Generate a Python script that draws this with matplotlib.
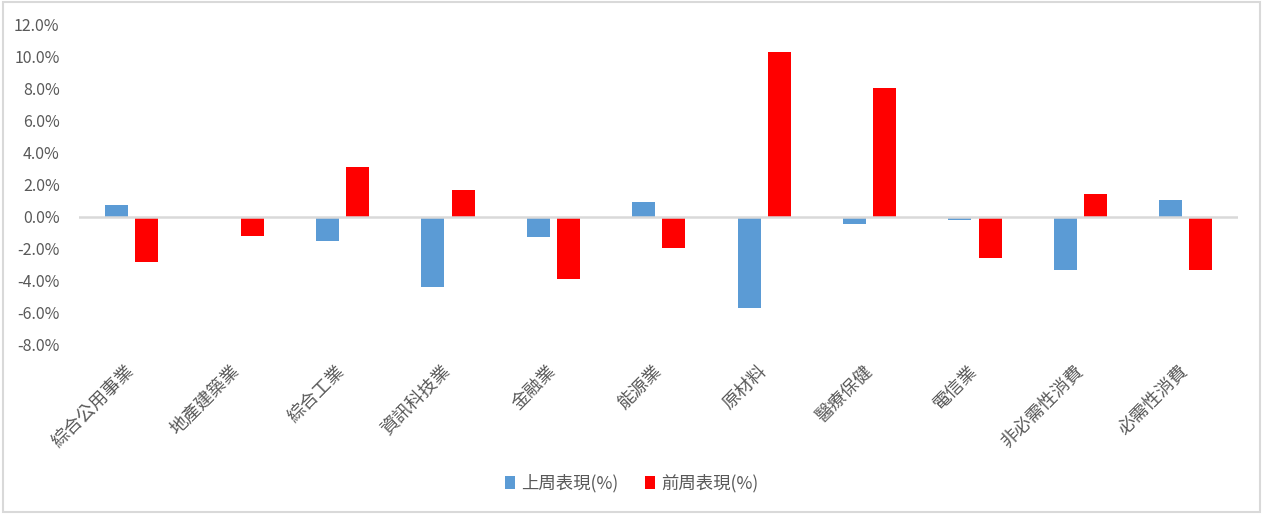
import numpy as np
import matplotlib
matplotlib.use('Agg')
import matplotlib.pyplot as plt
from matplotlib.ticker import FuncFormatter
from matplotlib.patches import Rectangle

plt.rcParams['font.family'] = ['Noto Sans CJK TC', 'DejaVu Sans']

### DATA (%)
sectors   = ['綜合公用事業', '地產建築業', '綜合工業', '資訊科技業', '金融業', '能源業',
             '原材料', '醫療保健', '電信業', '非必需性消費', '必需性消費']
last_week = [0.73, 0.0, -1.55, -4.4, -1.3, 0.9, -5.73, -0.44, -0.19, -3.3, 1.04]
prev_week = [-2.8, -1.2, 3.1, 1.65, -3.9, -1.93, 10.25, 8.0, -2.6, 1.41, -3.36]
series_names = ['上周表現(%)', '前周表現(%)']
yticks = np.arange(-8, 13, 2)

### PLOT
fig = plt.figure(figsize=(12.63, 5.14), dpi=100)
ax = fig.add_axes([0.0626, 0.329, 0.918, 0.624])

x = np.arange(len(sectors))
w = 0.218
off = 0.143
ax.bar(x - off, last_week, w, color='#5b9bd5', label=series_names[0], zorder=2)
ax.bar(x + off, prev_week, w, color='#ff0000', label=series_names[1], zorder=2)

ax.axhline(0, color='#d9d9d9', lw=1.8, zorder=3)
ax.set_xlim(-0.5, len(sectors) - 0.5)
ax.set_ylim(-8, 12)
ax.set_yticks(yticks)
ax.yaxis.set_major_formatter(FuncFormatter(lambda v, p: '%.1f%%' % v))
for s in ax.spines.values():
    s.set_visible(False)
ax.tick_params(axis='y', length=0, pad=14, labelsize=11.5, labelcolor='#595959')
ax.tick_params(axis='x', length=0, pad=17)
ax.set_xticks(x)
ax.set_xticklabels(sectors, rotation=45, ha='right', va='center',
                   rotation_mode='anchor', fontsize=13, color='#595959')

leg = fig.legend(loc='center', bbox_to_anchor=(0.5, 0.06), ncol=2, frameon=False,
                 fontsize=12.5, handlelength=0.6, handleheight=0.75, handletextpad=0.35,
                 columnspacing=1.5, labelcolor='#595959')

# light grey outer frame
fig.patches.append(Rectangle((0.002, 0.003), 0.996, 0.994, transform=fig.transFigure,
                             fill=False, edgecolor='#d9d9d9', lw=1.5))

fig.savefig('out.png', dpi=100)
